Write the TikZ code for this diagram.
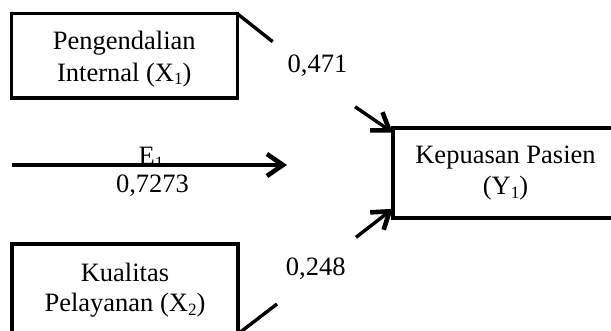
\documentclass[tikz,border=0pt]{standalone}
\usepackage{fontspec}
\setmainfont{Liberation Serif}
\usetikzlibrary{arrows.meta,calc}
\newcommand\lsub[1]{\raisebox{-0.12em}{\fontsize{8.6pt}{8.6pt}\selectfont #1}}
\begin{document}
\begin{tikzpicture}[x=0.5pt,y=-0.5pt,
  box/.style={draw, line width=1.8pt, inner sep=0pt, outer sep=0pt},
  txt/.style={font=\fontsize{13.25pt}{15.5pt}\selectfont, inner sep=0pt, anchor=base},
  conn/.style={line width=1.7pt},
  arr/.style={conn, -{Straight Barb[length=8pt,width=11pt,line width=2.3pt]}}]
\useasboundingbox (0,0) rectangle (611,331);
\clip (0,0) rectangle (611,331);
% boxes
\node[box, minimum width=113pt, minimum height=42.15pt] (x1) at (124.3,55.85) {};
\node[box, minimum width=112.6pt, minimum height=45.1pt] (y1) at (505.4,173.2) {};
\node[box, minimum width=113pt, minimum height=45pt] (x2) at (125,288.9) {};
% box texts
\node[txt] (x1a) at (124.3,50) {Pengendalian};
\node[txt] (x1b) at (124.3,81.7) {Internal (X\lsub{1})};
\node[txt] (y1a) at (505.5,164) {Kepuasan Pasien};
\node[txt] (y1b) at (505.5,195) {(Y\lsub{1})};
\node[txt] (x2a) at (125,282) {Kualitas};
\node[txt] (x2b) at (125,312) {Pelayanan (X\lsub{2})};
% coefficient labels
\node[txt] (c1) at (317.5,72.7) {0,471};
\node[txt] (c2) at (315.8,276) {0,248};
\node[txt] (e1) at (151,165) {E\lsub{1}};
\node[txt, fill=white, inner xsep=3pt, inner ysep=4.2pt] (e1v) at (152.5,193) {0,7273};
% connector coordinates
\coordinate (p1) at (272.7,41.7);
\coordinate (a1s) at (355,106.7);
\coordinate (a1e) at ($(y1.north west)+(0,4.5)$);
\coordinate (p2) at (277,304);
\coordinate (a2s) at (356,237.3);
\coordinate (a2e) at ($(y1.south west)+(0,-9.5)$);
\coordinate (es) at (11.7,165);
\coordinate (ee) at (287,165);
% connectors
\draw[conn] (x1.north east) -- (p1);
\draw[arr] (a1s) -- (a1e);
\draw[conn] (x2.south east) -- (p2);
\draw[arr] (a2s) -- (a2e);
\draw[arr] (es) -- (ee);
\end{tikzpicture}
\end{document}
